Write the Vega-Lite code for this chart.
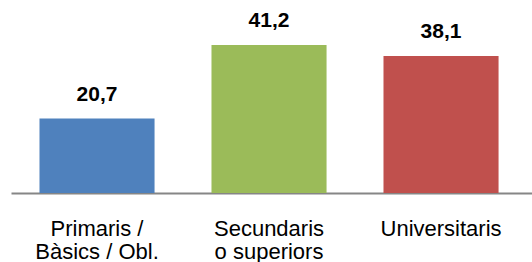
{
  "$schema": "https://vega.github.io/schema/vega-lite/v6.json",
  "width": 521,
  "height": 193,
  "autosize": "none",
  "padding": {"left": 11, "top": 0, "right": 0, "bottom": 69},
  "background": "white",
  "config": {
    "view": {"stroke": null},
    "font": "Liberation Sans",
    "locale": {"number": {"decimal": ",", "thousands": ".", "grouping": [3], "currency": ["", " €"]}}
  },
  "data": {
    "values": [
      {"cat": "Primaris / Bàsics / Obl.", "value": 20.7},
      {"cat": "Secundaris o superiors", "value": 41.2},
      {"cat": "Universitaris", "value": 38.1}
    ]
  },
  "encoding": {
    "x": {
      "field": "cat",
      "type": "nominal",
      "sort": null,
      "scale": {"paddingInner": 0.331, "paddingOuter": 0.18, "align": 0.46},
      "axis": {
        "title": null,
        "labelAngle": 0,
        "ticks": false,
        "domainColor": "#868686",
        "domainWidth": 2,
        "labelFont": "Liberation Sans",
        "labelFontSize": 22,
        "labelColor": "#000000",
        "labelPadding": 25,
        "labelLineHeight": 23,
        "labelBaseline": "top",
        "labelExpr": "datum.value == 'Primaris / Bàsics / Obl.' ? ['Primaris /', 'Bàsics / Obl.'] : datum.value == 'Secundaris o superiors' ? ['Secundaris', 'o superiors'] : datum.value"
      }
    },
    "y": {
      "field": "value",
      "type": "quantitative",
      "scale": {"domain": [0, 53.7], "nice": false, "zero": true},
      "axis": null
    }
  },
  "layer": [
    {
      "mark": {"type": "bar"},
      "encoding": {
        "color": {
          "field": "cat",
          "type": "nominal",
          "sort": null,
          "scale": {"range": ["#4F81BD", "#9BBB59", "#C0504D"]},
          "legend": null
        }
      }
    },
    {
      "mark": {"type": "text", "baseline": "alphabetic", "dy": -18, "fontSize": 21, "fontWeight": "bold", "font": "Liberation Sans", "color": "#000000"},
      "encoding": {
        "text": {"field": "value", "type": "quantitative", "format": ".1f"}
      }
    }
  ]
}
